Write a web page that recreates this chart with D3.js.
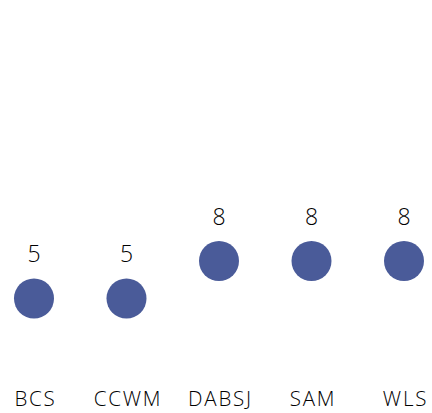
<!DOCTYPE html>
<html>
<head>
<meta charset="utf-8">
<script src="https://cdn.jsdelivr.net/npm/d3@7"></script>
<style>
  body { margin: 0; background: #fff; }
  text { font-family: "Open Sans", sans-serif; fill: #000; }
</style>
</head>
<body>
<svg id="chart"></svg>
<script>
const categories = ["BCS", "CCWM", "DABSJ", "SAM", "WLS"];
const values = [5, 5, 8, 8, 8];

const width = 432, height = 413;

const svg = d3.select("#chart")
    .attr("width", width)
    .attr("height", height);

const x = d3.scalePoint()
    .domain(categories)
    .range([34, 404]);

const y = d3.scaleLinear()
    .domain([0, 10])
    .range([361, 236]);

const data = categories.map((c, i) => ({ cat: c, val: values[i] }));

svg.selectAll("circle")
    .data(data)
    .enter()
    .append("circle")
    .attr("cx", d => x(d.cat))
    .attr("cy", d => y(d.val))
    .attr("r", 20)
    .style("fill", "#4a5b99");

svg.selectAll(".val")
    .data(data)
    .enter()
    .append("text")
    .attr("class", "val")
    .attr("x", d => x(d.cat))
    .attr("y", d => y(d.val) - 36.5)
    .attr("text-anchor", "middle")
    .style("font-size", "23px")
    .style("font-weight", "300")
    .text(d => d.val);

// category labels along the bottom
const xAxis = d3.axisBottom(x).tickSize(0).tickPadding(0);
const g = svg.append("g")
    .attr("transform", "translate(0, 406)")
    .call(xAxis);
g.select(".domain").remove();
g.selectAll("text")
    .attr("x", 1)
    .attr("y", 0)
    .attr("dy", 0)
    .style("font-size", "20.5px")
    .style("font-weight", "300")
    .style("letter-spacing", "1.8px")
    .style("font-family", "'Open Sans', sans-serif");
</script>
</body>
</html>
